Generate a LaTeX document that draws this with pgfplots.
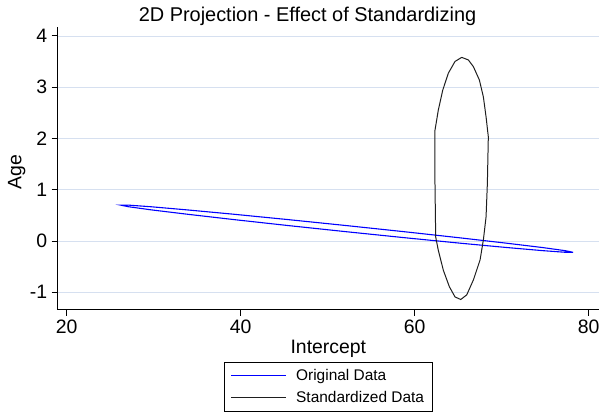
\documentclass[border=0pt]{standalone}
\usepackage{fontspec}
\setmainfont{Liberation Sans}
\usepackage{pgfplots}
\pgfplotsset{compat=1.18}

\definecolor{gridblue}{RGB}{214,224,240}
\definecolor{stdgray}{RGB}{30,30,30}

\begin{document}
\begin{tikzpicture}
% page = 601 x 412 bp, axis box sits at the origin
\path[use as bounding box] (-57.7bp,-102.3bp) rectangle (543.3bp,309.7bp);
\begin{axis}[
  scale only axis,
  width=541.3bp, height=282.4bp,
  xmin=18.97, xmax=81.18,
  ymin=-1.339, ymax=4.166,
  xtick={20,40,60,80},
  ytick={-1,0,1,2,3,4},
  axis x line*=bottom,
  axis y line*=left,
  axis line style={-, black, line width=0.8pt},
  tick align=outside,
  major tick length=6bp,
  tick style={black, line width=0.8pt},
  ymajorgrids=true,
  grid style={gridblue, line width=0.6pt},
  /pgf/number format/assume math mode=true,
  ticklabel style={font=\fontsize{19.5}{19.5}\selectfont},
  xticklabel style={yshift=-1bp},
  yticklabel style={xshift=-1bp},
  title={2D Projection - Effect of Standardizing},
  title style={font=\fontsize{20}{20}\selectfont, at={(axis description cs:0.4615,1)}, anchor=base, yshift=0bp},
  xlabel={Intercept},
  xlabel style={font=\fontsize{19.5}{19.5}\selectfont, at={(axis description cs:0.5,0)}, anchor=base, yshift=-43.6bp},
  ylabel={Age},
  ylabel style={font=\fontsize{19.5}{19.5}\selectfont, at={(axis description cs:-0.0757,0.4876)}, anchor=center},
  legend style={
    at={(0.5,-0.184)}, anchor=north,
    draw=black,
    font=\fontsize{15.5}{15.5}\selectfont,
    inner xsep=6bp, inner ysep=5bp,
    row sep=6bp,
    cells={anchor=west},
  },
  legend image post style={xscale=3.2},
]

% Original Data (thin closed loop)
\addplot[blue, line width=1.1pt] coordinates {
  (78.20,-0.220) (77.32,-0.189) (74.72,-0.128) (70.58,-0.043) (65.20,0.062)
  (58.93,0.179) (52.20,0.300) (45.47,0.417) (39.20,0.522) (33.82,0.607)
  (29.68,0.668) (27.08,0.700) (26.20,0.700) (27.08,0.669) (29.68,0.608)
  (33.82,0.523) (39.20,0.418) (45.47,0.301) (52.20,0.180) (58.93,0.063)
  (65.20,-0.042) (70.58,-0.127) (74.72,-0.188) (77.32,-0.220) (78.20,-0.220)
};
\addlegendentry{\hspace{8bp}Original Data}

% Standardized Data
\addplot[stdgray, line width=1.0pt] coordinates {
  (65.40,3.58) (66.16,3.53) (66.74,3.40) (67.43,3.14) (67.89,2.81)
  (68.20,2.42) (68.46,2.03) (68.35,1.12) (68.20,0.47) (67.89,0.02)
  (67.51,-0.37) (66.74,-0.76) (65.98,-1.05) (65.29,-1.14) (64.63,-1.09)
  (63.98,-0.89) (63.29,-0.57) (62.71,-0.18) (62.41,0.08) (62.33,1.12)
  (62.33,2.16) (62.71,2.55) (63.22,2.94) (63.86,3.27) (64.63,3.50)
  (65.40,3.58)
};
\addlegendentry{\hspace{8bp}Standardized Data}

\end{axis}
\end{tikzpicture}
\end{document}
